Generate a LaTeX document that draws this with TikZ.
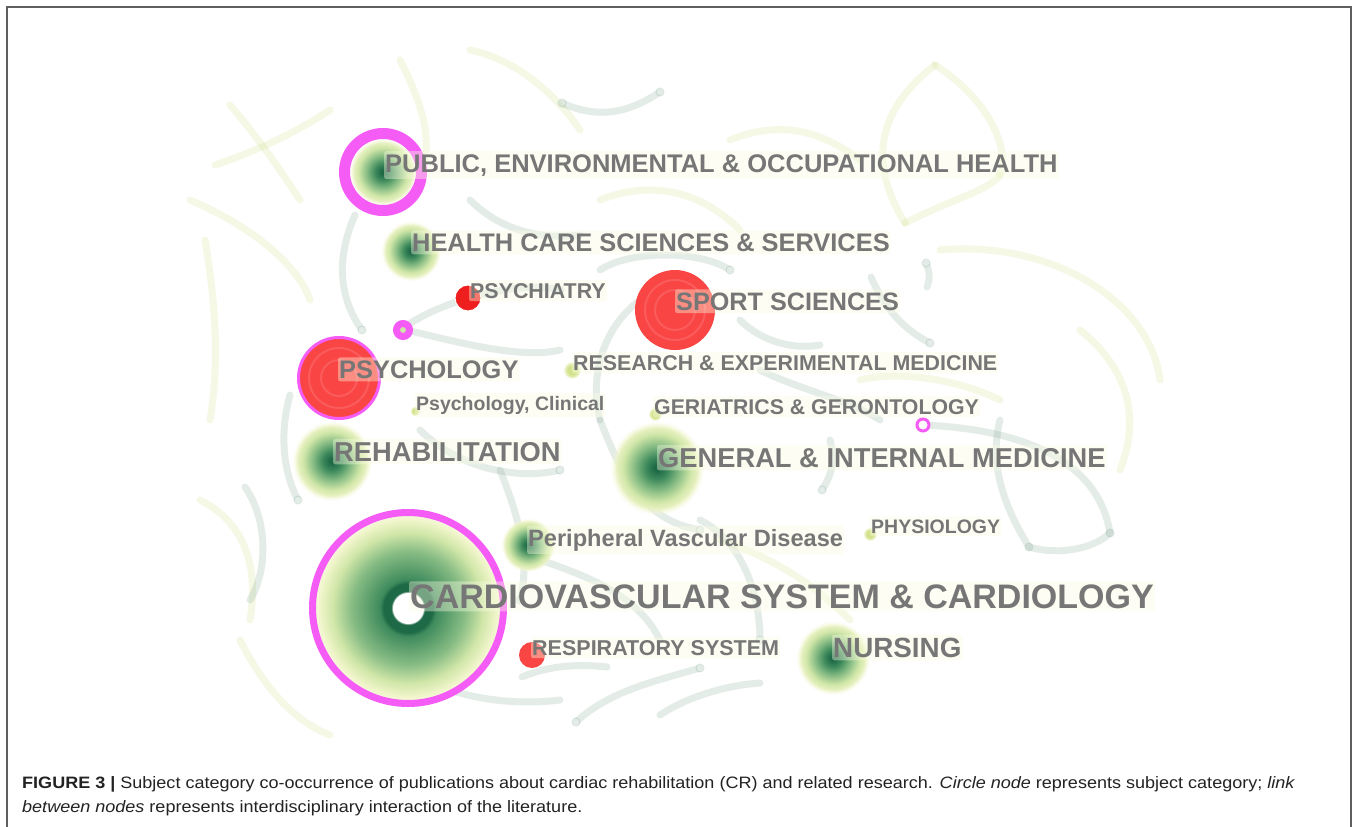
\documentclass[tikz,border=0pt]{standalone}
\usepackage{fontspec}
\setmainfont{Liberation Sans}
\usetikzlibrary{fadings}
\definecolor{framec}{RGB}{95,95,95}
\definecolor{labc}{RGB}{118,118,118}
\definecolor{mag}{RGB}{245,92,245}
\definecolor{redn}{RGB}{250,60,60}
\definecolor{redd}{RGB}{240,20,20}
\definecolor{g0}{RGB}{30,105,70}
\definecolor{g1}{RGB}{62,138,92}
\definecolor{g2}{RGB}{135,188,132}
\definecolor{g3}{RGB}{208,230,168}
\definecolor{g4}{RGB}{240,245,202}
\definecolor{g5}{RGB}{248,250,226}
\definecolor{y0}{RGB}{210,226,140}
\definecolor{linkg}{RGB}{92,140,118}
\definecolor{linky}{RGB}{212,228,150}
\definecolor{halo}{RGB}{250,252,226}
\definecolor{capc}{RGB}{35,35,35}
\pgfdeclareradialshading{gnode}{\pgfpoint{0bp}{0bp}}{color(0bp)=(g0); color(1.5bp)=(g0); color(6bp)=(g1); color(12bp)=(g2); color(18bp)=(g3); color(23bp)=(g4); color(25bp)=(g5); color(50bp)=(g5)}
\pgfdeclareradialshading{cnode}{\pgfpoint{0bp}{0bp}}{color(0bp)=(white); color(4.1bp)=(white); color(4.4bp)=(g0); color(6.5bp)=(g0); color(7.5bp)=(g1); color(15bp)=(g2); color(20bp)=(g3); color(23.5bp)=(g4); color(25bp)=(g5); color(50bp)=(g5)}
\pgfdeclareradialshading{ynode}{\pgfpoint{0bp}{0bp}}{color(0bp)=(y0); color(12bp)=(y0); color(25bp)=(g5); color(50bp)=(g5)}
\newlength\capwd
\newcommand\lfs[1]{\fontsize{#1}{#1}\selectfont\bfseries}
\newcommand\capfont{\fontsize{16.5}{20}\selectfont\color{capc}}
\newcommand\capone{\textbf{FIGURE 3 |} Subject category co-occurrence of publications about cardiac rehabilitation (CR) and related research. \textit{Circle node} represents subject category; \textit{link}}
\newcommand\captwo{\textit{between nodes} represents interdisciplinary interaction of the literature.}
\tikzset{
  lk/.style={draw=linkg, draw opacity=0.16, line width=7pt, line cap=round},
  lky/.style={draw=linky, draw opacity=0.25, line width=7pt, line cap=round},
  lkend/.style={draw=linkg, draw opacity=0.2, line width=1pt},
  gn/.style={circle, inner sep=0pt, shade, shading=gnode, path fading=circle with fuzzy edge 15 percent},
  yn/.style={circle, inner sep=0pt, shade, shading=ynode, path fading=circle with fuzzy edge 20 percent},
  rn/.style={circle, inner sep=0pt, fill=redn, fill opacity=0.95},
  lab/.style={text=labc, fill=halo, fill opacity=0.4, text opacity=1, inner xsep=1pt, inner ysep=3pt, rounded corners=2pt, anchor=base west},
}
\begin{document}
\settowidth\capwd{\fontsize{16.5}{20}\selectfont\capone}
\pgfmathsetmacro\capsc{1273/\capwd}
\begin{tikzpicture}[x=1pt,y=-1pt]
\useasboundingbox (0,0) rectangle (1358,827);
\fill[white] (0,0) rectangle (1358,827);
\draw[framec, line width=1.2pt] (7,827) -- (7,7) -- (1351,7) -- (1351,827);

% faint background links
\draw[lky] (230,105) .. controls (260,140) and (280,170) .. (300,200);
\draw[lky] (215,165) .. controls (260,150) and (300,130) .. (330,110);
\draw[lky] (205,240) .. controls (215,300) and (220,360) .. (210,420);
\draw[lky] (190,200) .. controls (260,230) and (300,270) .. (310,300);
\draw[lky] (400,60) .. controls (420,100) and (430,130) .. (425,160);
\draw[lky] (470,50) .. controls (520,60) and (560,100) .. (580,130);
\draw[lky] (730,140) .. controls (780,120) and (820,130) .. (860,160);
\draw[lky] (935,65) .. controls (990,100) and (1010,150) .. (1000,175);
\draw[lky] (935,65) .. controls (890,100) and (860,150) .. (905,223);
\draw[lky] (905,223) .. controls (950,200) and (990,190) .. (1000,175);
\draw[lky] (940,250) .. controls (1050,240) and (1150,300) .. (1160,380);
\draw[lky] (1080,330) .. controls (1130,370) and (1140,420) .. (1120,470);
\draw[lky] (200,500) .. controls (240,520) and (260,560) .. (250,620);
\draw[lky] (240,640) .. controls (260,680) and (290,720) .. (330,735);
\draw[lky] (600,200) .. controls (650,180) and (700,190) .. (740,230);
\draw[lky] (860,380) .. controls (900,370) and (960,380) .. (1000,400);
\draw[lky] (720,540) .. controls (780,560) and (820,590) .. (850,620);

\draw[lk] (562,103) .. controls (600,120) and (630,112) .. (660,92);
\draw[lk] (245,487) .. controls (268,520) and (268,570) .. (250,600);
\draw[lk] (923,425) .. controls (1040,430) and (1100,470) .. (1110,533);
\draw[lk] (1029,547) .. controls (1000,500) and (990,460) .. (1000,420);
\draw[lk] (1029,547) .. controls (1060,556) and (1095,548) .. (1110,533);
\draw[lk] (830,440) .. controls (835,460) and (832,475) .. (822,490);
\draw[lk] (576,722) .. controls (610,690) and (660,680) .. (700,668);
\draw[lk] (522,677) .. controls (550,665) and (580,664) .. (607,667);
\draw[lk] (660,715) .. controls (690,695) and (730,685) .. (760,683);
\draw[lk] (926,263) .. controls (930,272) and (930,280) .. (927,287);
\draw[lk] (871,277) .. controls (885,310) and (905,330) .. (930,343);
\draw[lk] (355,215) .. controls (335,260) and (340,300) .. (362,330);
\draw[lk] (402,329) .. controls (440,300) and (520,280) .. (560,290);
\draw[lk] (402,329) .. controls (450,340) and (520,360) .. (560,350);
\draw[lk] (600,270) .. controls (630,250) and (700,250) .. (730,270);
\draw[lk] (740,320) .. controls (760,340) and (790,350) .. (820,345);
\draw[lk] (420,430) .. controls (460,470) and (520,480) .. (560,470);
\draw[lk] (500,470) .. controls (520,520) and (530,560) .. (520,600);
\draw[lk] (600,420) .. controls (620,470) and (640,520) .. (700,530);
\draw[lk] (700,520) .. controls (740,540) and (760,590) .. (760,640);
\draw[lk] (450,690) .. controls (480,700) and (520,705) .. (560,700);
\draw[lk] (290,395) .. controls (280,430) and (282,470) .. (298,500);
\draw[lk] (470,200) .. controls (500,230) and (540,240) .. (580,235);
\draw[lk] (640,300) .. controls (600,330) and (590,380) .. (600,420);
\draw[lk] (760,370) .. controls (800,390) and (850,400) .. (880,420);
\draw[lk] (540,560) .. controls (600,580) and (640,600) .. (660,640);
\foreach \p in {(562,103),(660,92),(1110,533),(1029,547),(822,490),(576,722),(700,668),(926,263),(930,343),(362,330),(560,290),(730,270),(560,470),(520,600),(700,530),(760,640),(298,500)}
  \draw[lkend] \p circle[radius=4pt];

% nodes
\node[gn, minimum size=68pt] (pub) at (383,172) {};
\draw[mag, line width=11pt] (pub.center) circle[radius=38.5pt];
\node[gn, minimum size=60pt] (hc) at (411,251) {};
\node[rn, fill=redd, minimum size=26pt, draw=white, line width=1pt] (psyi) at (468,298) {};
\node[rn, minimum size=80pt] (sport) at (675,310) {};
\node[circle, inner sep=0pt, minimum size=13pt, draw=mag, line width=7pt, fill=g3] (mag1) at (403,330) {};
\node[rn, minimum size=80pt] (psy) at (339,378) {};
\draw[mag, line width=3pt] (psy.center) circle[radius=40.5pt];
\node[yn, minimum size=18pt] (res) at (572,370) {};
\node[yn, minimum size=10pt] (pcl) at (415,411) {};
\node[yn, minimum size=14pt] (ger) at (655,414) {};
\node[circle, inner sep=0pt, minimum size=12pt, draw=mag, line width=3pt, fill=white] (mag2) at (923,425) {};
\node[gn, minimum size=80pt] (reh) at (332,461) {};
\node[gn, minimum size=94pt] (gen) at (657,468) {};
\node[yn, minimum size=14pt] (phy) at (870,534) {};
\node[gn, minimum size=54pt] (per) at (528,545) {};
\node[circle, inner sep=0pt, minimum size=188pt, shade, shading=cnode] (car) at (408,608) {};
\draw[mag, line width=7pt] (car.center) circle[radius=95.5pt];
\node[rn, minimum size=26pt] (resp) at (532,655) {};
\node[gn, minimum size=74pt] (nur) at (833,658) {};
\foreach \n/\r in {sport/30,sport/20,psy/30,psy/18}
  \draw[white, opacity=0.12, line width=2pt] (\n.center) circle[radius=\r pt];

% labels
\node[lab, font=\lfs{25.5}] (tpub) at (384,172) {PUBLIC, ENVIRONMENTAL \& OCCUPATIONAL HEALTH};
\node[lab, font=\lfs{25.4}] (thc) at (411,251) {HEALTH CARE SCIENCES \& SERVICES};
\node[lab, font=\lfs{21.4}] (tpsyi) at (469,298) {PSYCHIATRY};
\node[lab, font=\lfs{25.2}] (tsport) at (675,310) {SPORT SCIENCES};
\node[lab, font=\lfs{25.4}] (tpsy) at (338,378) {PSYCHOLOGY};
\node[lab, font=\lfs{21.4}] (tres) at (572,370) {RESEARCH \& EXPERIMENTAL MEDICINE};
\node[lab, font=\lfs{19.5}] (tpcl) at (415,410) {Psychology, Clinical};
\node[lab, font=\lfs{21.3}] (tger) at (653,414) {GERIATRICS \& GERONTOLOGY};
\node[lab, font=\lfs{27.3}] (treh) at (333,461) {REHABILITATION};
\node[lab, font=\lfs{27.3}] (tgen) at (657,467) {GENERAL \& INTERNAL MEDICINE};
\node[lab, font=\lfs{19.5}] (tphy) at (870,533) {PHYSIOLOGY};
\node[lab, font=\lfs{23.6}] (tper) at (527,546) {Peripheral Vascular Disease};
\node[lab, font=\lfs{34}] (tcar) at (409,608) {CARDIOVASCULAR SYSTEM \& CARDIOLOGY};
\node[lab, font=\lfs{21.5}] (tresp) at (531,655) {RESPIRATORY SYSTEM};
\node[lab, font=\lfs{27.8}] (tnur) at (832,657) {NURSING};

% caption
\node[anchor=base west, inner sep=0pt] (cap1) at (22,788) {\scalebox{\capsc}[1]{\capfont\capone}};
\node[anchor=base west, inner sep=0pt] (cap2) at (22,812) {\scalebox{\capsc}[1]{\capfont\captwo}};
\end{tikzpicture}
\end{document}
